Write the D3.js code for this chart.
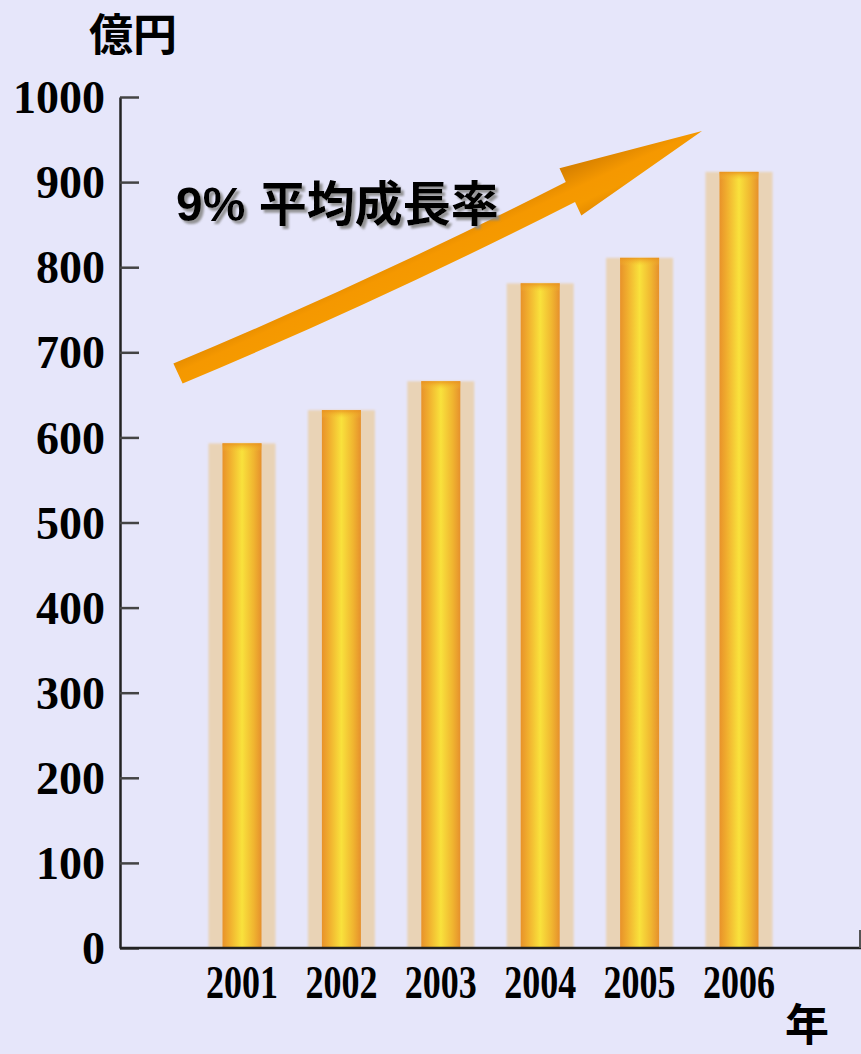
<!DOCTYPE html>
<html>
<head>
<meta charset="utf-8">
<script src="https://cdn.jsdelivr.net/npm/d3@7"></script>
<style>
  html, body { margin: 0; padding: 0; background: #e6e6fa; }
  svg { display: block; }
</style>
</head>
<body>
<div id="chart"></div>
<script>
// Annual sales, 億円
const years = ["2001", "2002", "2003", "2004", "2005", "2006"];
const sales = [593, 632, 666, 781, 811, 912];
const yTicks = [0, 100, 200, 300, 400, 500, 600, 700, 800, 900, 1000];
const unitLabel = "億円";
const yearLabel = "年";
const growthLabel = "9% 平均成長率";
// Growth arrow in data units: start/tip values on the 億円 axis
const arrowValues = [675, 960];

const W = 861, H = 1054;
const axisX = 120, axisTop = 97, axisBottom = 948;

const svg = d3.select("#chart").append("svg")
  .attr("width", W).attr("height", H);

svg.append("rect").attr("width", W).attr("height", H).attr("fill", "#e6e6fa");

const defs = svg.append("defs");

// cylinder shading for the bars
const cyl = defs.append("linearGradient").attr("id", "cyl")
  .attr("x1", 0).attr("x2", 1).attr("y1", 0).attr("y2", 0);
[["0%", "#e8922a"], ["18%", "#f0ad2e"], ["50%", "#f9e23c"], ["80%", "#f0b530"], ["100%", "#e6902c"]]
  .forEach(([o, c]) => cyl.append("stop").attr("offset", o).attr("stop-color", c));

const cap = defs.append("linearGradient").attr("id", "cap")
  .attr("x1", 0).attr("x2", 0).attr("y1", 0).attr("y2", 1);
cap.append("stop").attr("offset", "0%").attr("stop-color", "#e8901e").attr("stop-opacity", 0.85);
cap.append("stop").attr("offset", "100%").attr("stop-color", "#f5c030").attr("stop-opacity", 0);

defs.append("filter").attr("id", "soft")
  .attr("x", "-20%").attr("y", "-5%").attr("width", "140%").attr("height", "110%")
  .append("feGaussianBlur").attr("stdDeviation", 1.2);

const arrowGrad = defs.append("linearGradient").attr("id", "arrowGrad")
  .attr("gradientUnits", "userSpaceOnUse");
const shadowF = defs.append("filter").attr("id", "txtShadow")
  .attr("x", "-5%").attr("y", "-20%").attr("width", "115%").attr("height", "150%");
shadowF.append("feGaussianBlur").attr("in", "SourceAlpha").attr("stdDeviation", 1).attr("result", "b");
shadowF.append("feOffset").attr("in", "b").attr("dx", 3).attr("dy", 3).attr("result", "o");
shadowF.append("feFlood").attr("flood-color", "#8a8a8a").attr("flood-opacity", 0.9);
shadowF.append("feComposite").attr("in2", "o").attr("operator", "in").attr("result", "s");
const merge = shadowF.append("feMerge");
merge.append("feMergeNode").attr("in", "s");
merge.append("feMergeNode").attr("in", "SourceGraphic");

// scales
const y = d3.scaleLinear().domain([0, 1000]).range([axisBottom, axisTop]);
const x = d3.scalePoint().domain(years).range([242, 739]);
const outerW = 67, innerW = 39;

// bars
const bars = svg.append("g").selectAll("g").data(years.map((yr, i) => ({ yr, v: sales[i] })))
  .join("g");

bars.append("rect")
  .attr("x", d => x(d.yr) - outerW / 2)
  .attr("y", d => y(d.v))
  .attr("width", outerW)
  .attr("height", d => y(0) - y(d.v))
  .attr("fill", "#e9d3b6")
  .attr("filter", "url(#soft)");

bars.append("rect")
  .attr("x", d => x(d.yr) - innerW / 2)
  .attr("y", d => y(d.v))
  .attr("width", innerW)
  .attr("height", d => y(0) - y(d.v))
  .attr("fill", "url(#cyl)");

bars.append("rect")
  .attr("x", d => x(d.yr) - innerW / 2)
  .attr("y", d => y(d.v))
  .attr("width", innerW)
  .attr("height", 8)
  .attr("fill", "url(#cap)");

// y axis
const yAxis = d3.axisLeft(y).tickValues(yTicks).tickFormat(d3.format("d"))
  .tickSizeInner(-19).tickSizeOuter(0).tickPadding(15);
const gy = svg.append("g").attr("transform", `translate(${axisX},0)`).call(yAxis);
gy.select(".domain").attr("stroke", "#222").attr("stroke-width", 2.5);
gy.selectAll(".tick line").attr("stroke", "#444").attr("stroke-width", 2.5);
gy.selectAll(".tick text")
  .attr("fill", "#000")
  .attr("font-family", "'Liberation Serif', 'Times New Roman', serif")
  .attr("font-weight", "bold")
  .attr("font-size", 46)
  .attr("dy", "0.34em");

// x axis line
svg.append("line")
  .attr("x1", axisX).attr("x2", W).attr("y1", axisBottom).attr("y2", axisBottom)
  .attr("stroke", "#222").attr("stroke-width", 2.5);
svg.append("line")
  .attr("x1", W - 1).attr("x2", W - 1).attr("y1", axisBottom - 18).attr("y2", axisBottom)
  .attr("stroke", "#555").attr("stroke-width", 2);

// year labels
svg.append("g").selectAll("text").data(years).join("text")
  .attr("x", d => x(d))
  .attr("y", 998)
  .attr("text-anchor", "middle")
  .attr("font-family", "'Liberation Serif', 'Times New Roman', serif")
  .attr("font-weight", "bold")
  .attr("font-size", 46)
  .attr("textLength", 72)
  .attr("lengthAdjust", "spacingAndGlyphs")
  .text(d => d);

// unit labels
svg.append("text")
  .attr("x", 133).attr("y", 51)
  .attr("text-anchor", "middle")
  .attr("font-family", "'Noto Sans CJK JP', sans-serif")
  .attr("font-weight", "bold")
  .attr("font-size", 44)
  .text(unitLabel);

svg.append("text")
  .attr("x", 785).attr("y", 1041)
  .attr("font-family", "'Noto Sans CJK JP', sans-serif")
  .attr("font-weight", "bold")
  .attr("font-size", 44)
  .text(yearLabel);

// growth arrow
const x0 = x(years[0]) - 64, x1 = x(years[years.length - 1]) - 37;
const p0 = [x0, y(arrowValues[0])];
const tip = [x1, y(arrowValues[1])];
const dx = tip[0] - p0[0], dy = tip[1] - p0[1];
const len = Math.hypot(dx, dy);
const ux = dx / len, uy = dy / len;      // along
const nx = -uy, ny = ux;                 // normal (points down-right side)
const headLen = 145, shaftHalf = 11, headHalf = 26;
const bend = 8;                          // slight sag of the shaft
const hb = [tip[0] - ux * headLen, tip[1] - uy * headLen];
const mid = [(p0[0] + hb[0]) / 2 + nx * bend, (p0[1] + hb[1]) / 2 + ny * bend];
const off = (p, s) => [p[0] + nx * s, p[1] + ny * s];
const a = off(p0, -shaftHalf), b = off(p0, shaftHalf);
const hm1 = off(hb, -shaftHalf), hm2 = off(hb, shaftHalf);
const m1 = off(mid, -shaftHalf), m2 = off(mid, shaftHalf);
const h1 = off(hb, -headHalf), h2 = off(hb, headHalf);

arrowGrad.attr("x1", mid[0] - nx * 30).attr("y1", mid[1] - ny * 30)
  .attr("x2", mid[0] + nx * 30).attr("y2", mid[1] + ny * 30);
[["0%", "#d98200"], ["35%", "#f59800"], ["60%", "#f59a00"], ["100%", "#d88000"]]
  .forEach(([o, c]) => arrowGrad.append("stop").attr("offset", o).attr("stop-color", c));

const path = d3.path();
path.moveTo(...a);
path.quadraticCurveTo(...m1, ...hm1);
path.lineTo(...h1);
path.lineTo(...tip);
path.lineTo(...h2);
path.lineTo(...hm2);
path.quadraticCurveTo(...m2, ...b);
path.closePath();
svg.append("path").attr("d", path.toString()).attr("fill", "url(#arrowGrad)");

// growth label
svg.append("text")
  .attr("x", 176).attr("y", 221)
  .attr("font-family", "'Liberation Sans', 'Noto Sans CJK JP', sans-serif")
  .attr("font-weight", "bold")
  .attr("font-size", 48)
  .attr("filter", "url(#txtShadow)")
  .text(growthLabel);
</script>
</body>
</html>
